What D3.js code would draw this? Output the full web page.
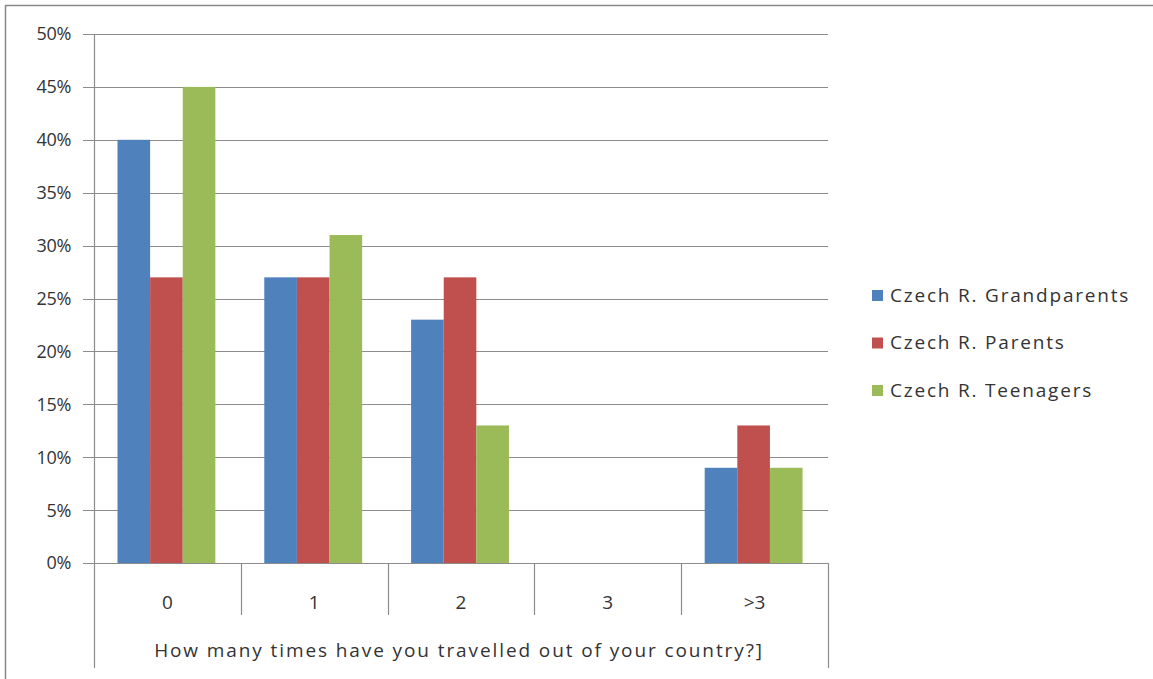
<!DOCTYPE html>
<html><head><meta charset="utf-8">
<script src="https://cdn.jsdelivr.net/npm/d3@7"></script>
<style>
body{margin:0;background:#fff;}
text{font-family:"Open Sans","DejaVu Sans",sans-serif;fill:#333;}
</style></head>
<body><svg id="c" width="1153" height="679"></svg>
<script>
const categories = ["0","1","2","3",">3"];
const seriesNames = ["Czech R. Grandparents","Czech R. Parents","Czech R. Teenagers"];
const grandparents = [40,27,23,0,9];
const parents = [27,27,27,0,13];
const teenagers = [45,31,13,0,9];
const yTicks = [0,5,10,15,20,25,30,35,40,45,50];
const colors = ["#4F81BD","#C0504D","#9BBB59"];
const axisTitle = "How many times have you travelled out of your country?]";

const series = [grandparents, parents, teenagers];
const svg = d3.select("#c");
const L=94, R=828, T=34, B=563;

// outer border (top and left)
svg.append("line").attr("x1",5).attr("x2",1153).attr("y1",5.5).attr("y2",5.5).attr("stroke","#888").attr("stroke-width",1.5);
svg.append("line").attr("x1",5.5).attr("x2",5.5).attr("y1",5).attr("y2",679).attr("stroke","#888").attr("stroke-width",1.5);

const y = d3.scaleLinear().domain([0,50]).range([B,T]);
const x = d3.scaleBand().domain(categories).range([L,R]).paddingInner(0).paddingOuter(0);
const bw = x.bandwidth()/4.5;
const xs = d3.scaleBand().domain(d3.range(3)).range([bw*0.72, bw*3.72]).padding(0);

// gridlines
svg.append("g").selectAll("line").data(yTicks).join("line")
  .attr("x1",83).attr("x2",R).attr("y1",d=>Math.round(y(d))+0.5).attr("y2",d=>Math.round(y(d))+0.5)
  .attr("stroke","#8c8c8c").attr("stroke-width",1.2);

// y labels
svg.append("g").selectAll("text").data(yTicks).join("text")
  .attr("x",71).attr("y",d=>y(d)).attr("dy","0.36em").attr("text-anchor","end")
  .attr("font-size",18).attr("letter-spacing",-0.3).text(d=>d+"%");

// bars
const g = svg.append("g");
series.forEach((vals,si)=>{
  g.selectAll(null).data(vals.map((v,i)=>({c:categories[i],v}))).join("rect")
    .attr("x",d=>x(d.c)+xs(si)).attr("width",xs.bandwidth())
    .attr("y",d=>y(d.v)).attr("height",d=>y(0)-y(d.v))
    .attr("fill",colors[si]);
});

// axis lines
svg.append("line").attr("x1",L+0.5).attr("x2",L+0.5).attr("y1",T).attr("y2",668).attr("stroke","#8c8c8c").attr("stroke-width",1.2);
svg.append("line").attr("x1",R+0.5).attr("x2",R+0.5).attr("y1",B).attr("y2",668).attr("stroke","#8c8c8c").attr("stroke-width",1.2);
svg.append("line").attr("x1",L).attr("x2",R).attr("y1",B+0.5).attr("y2",B+0.5).attr("stroke","#8c8c8c").attr("stroke-width",1.2);
// category separators
svg.append("g").selectAll("line").data(categories.slice(1)).join("line")
  .attr("x1",d=>Math.round(x(d))+0.5).attr("x2",d=>Math.round(x(d))+0.5).attr("y1",B).attr("y2",615)
  .attr("stroke","#8c8c8c").attr("stroke-width",1.2);
// category labels
svg.append("g").selectAll("text").data(categories).join("text")
  .attr("x",d=>x(d)+x.bandwidth()/2).attr("y",602).attr("dy","0.36em").attr("text-anchor","middle")
  .attr("font-size",19).text(d=>d);
// axis title
svg.append("text").attr("x",(L+R)/2 - 2).attr("y",650).attr("dy","0.36em").attr("text-anchor","middle")
  .attr("font-size",19).attr("letter-spacing",1.9).text(axisTitle);

// legend
const lg = svg.append("g");
seriesNames.forEach((n,i)=>{
  const cy = 295 + i*47.5;
  lg.append("rect").attr("x",872).attr("y",cy-5).attr("width",11).attr("height",11).attr("fill",colors[i]);
  lg.append("text").attr("x",890).attr("y",cy).attr("dy","0.36em").attr("font-size",19).attr("letter-spacing",1.8).text(n);
});
</script></body></html>
